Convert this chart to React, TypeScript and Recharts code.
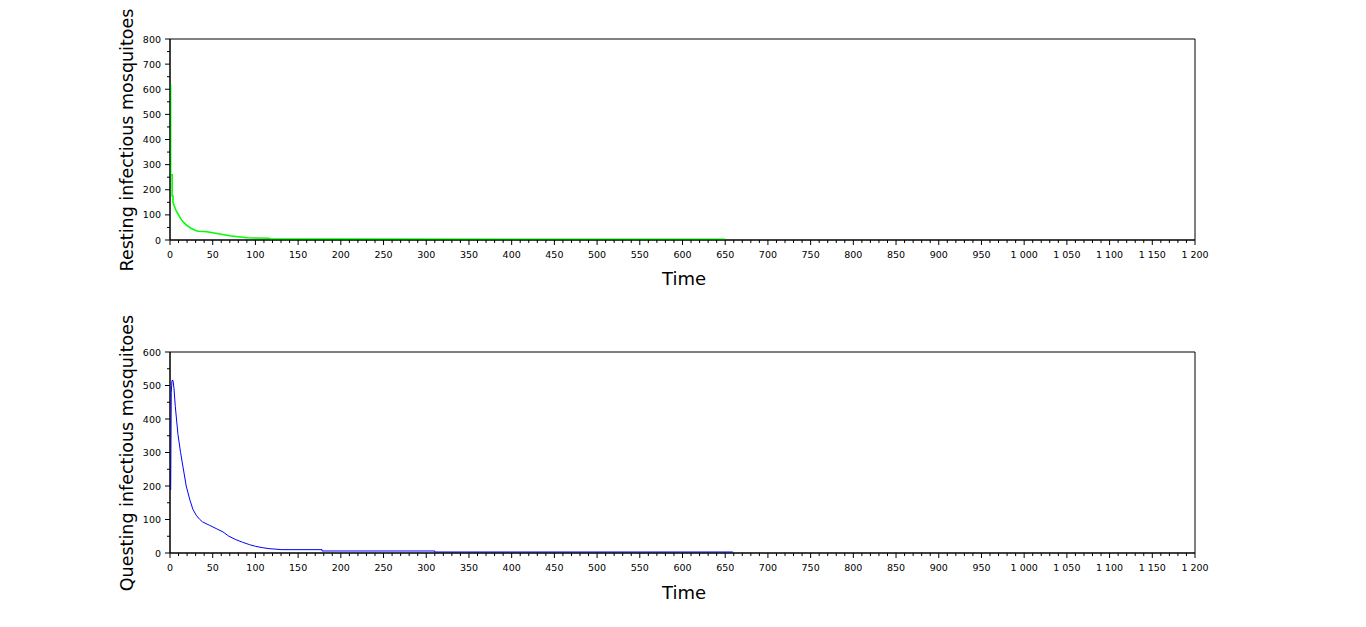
import React from "react";
import { LineChart, Line, XAxis, YAxis, ReferenceArea } from "recharts";

// Time (days) and values for resting infectious mosquitoes
const restingT = [0.7, 0.7, 2.5, 2.5, 3.5, 3.5, 5, 7, 10, 13, 16, 20, 25, 30, 33, 40, 45, 50, 55, 60, 65, 70, 77, 85, 90, 100, 116, 117, 200, 400, 650];
const restingV = [620, 260, 260, 175, 175, 150, 135, 118, 100, 82, 70, 57, 46, 38, 35, 34, 32, 29, 26, 23, 20, 17, 14, 11, 9, 8, 7, 4, 3.5, 3, 3];

// Time (days) and values for questing infectious mosquitoes
const questingT = [0.8, 1.5, 2.3, 3.5, 4.6, 6.2, 9.3, 12.4, 15, 19, 23, 26.7, 30.6, 34.5, 38, 46, 54, 62, 69, 77, 85, 93, 100, 108, 116, 131, 178, 178, 310, 310, 659];
const questingV = [188, 480, 515, 515, 493, 438, 354, 300, 260, 200, 161, 131, 113, 101, 93, 83, 73, 63, 50, 40, 32, 25, 20, 16, 13, 10, 10, 6, 6, 3, 3];

const xTicks: number[] = [];
for (let i = 0; i <= 1200; i += 10) xTicks.push(i);
const yTicksTop: number[] = [];
for (let i = 0; i <= 800; i += 50) yTicksTop.push(i);
const yTicksBottom: number[] = [];
for (let i = 0; i <= 600; i += 50) yTicksBottom.push(i);

const restingData = restingT.map((t, i) => ({ t, v: restingV[i] }));
const questingData = questingT.map((t, i) => ({ t, v: questingV[i] }));

const FONT = "DejaVu Sans, sans-serif";

const fmt = (v: number) => {
  if (v >= 1000) {
    const s = String(v);
    return s.slice(0, s.length - 3) + " " + s.slice(s.length - 3);
  }
  return String(v);
};

const XTick = (props: any) => {
  const { x, y, payload } = props;
  const major = payload.value % 50 === 0;
  return (
    <g>
      <line x1={x} x2={x} y1={y} y2={y + (major ? 5 : 3)} stroke="#000" strokeWidth={1} />
      {major && (
        <text x={x} y={y + 18} textAnchor="middle" fontSize={9.5} fontFamily={FONT} fill="#000">
          {fmt(payload.value)}
        </text>
      )}
    </g>
  );
};

const YTick = (props: any) => {
  const { x, y, payload } = props;
  const major = payload.value % 100 === 0;
  return (
    <g>
      <line x1={x} x2={x - (major ? 5 : 3)} y1={y} y2={y} stroke="#000" strokeWidth={1} />
      {major && (
        <text x={x - 9} y={y + 3.5} textAnchor="end" fontSize={9.5} fontFamily={FONT} fill="#000">
          {payload.value}
        </text>
      )}
    </g>
  );
};

function Panel({ data, yMax, yTicks, color, width, height, top, bottom }: any) {
  return (
    <LineChart
      width={1366}
      height={height}
      data={data}
      margin={{ top, right: 171, left: 120, bottom }}
    >
      <XAxis
        dataKey="t"
        type="number"
        domain={[0, 1200]}
        ticks={xTicks}
        interval={0}
        tickSize={0}
        tickMargin={0}
        tickLine={false}
        tick={<XTick />}
        height={30}
        axisLine={{ stroke: "#000" }}
        allowDataOverflow
      />
      <YAxis
        type="number"
        domain={[0, yMax]}
        ticks={yTicks}
        interval={0}
        tickSize={0}
        tickMargin={0}
        tickLine={false}
        tick={<YTick />}
        width={50}
        axisLine={{ stroke: "#000" }}
        allowDataOverflow
      />
      <ReferenceArea x1={0} x2={1200} y1={0} y2={yMax} fill="none" stroke="#000" strokeWidth={1} ifOverflow="visible" />
      <Line
        dataKey="v"
        type="linear"
        stroke={color}
        strokeWidth={width}
        dot={false}
        isAnimationActive={false}
      />
    </LineChart>
  );
}

export default function App() {
  return (
    <div style={{ position: "absolute", left: 0, top: 0, width: 1366, height: 627, background: "#fff" }}>
      <div style={{ position: "absolute", left: 0, top: 0 }}>
        <Panel data={restingData} yMax={800} yTicks={yTicksTop} color="#00ff00" width={1.6} height={313} top={39} bottom={43} />
      </div>
      <div style={{ position: "absolute", left: 0, top: 313 }}>
        <Panel data={questingData} yMax={600} yTicks={yTicksBottom} color="#0000ff" width={1} height={314} top={39} bottom={44} />
      </div>
      <svg width={1366} height={627} style={{ position: "absolute", left: 0, top: 0, pointerEvents: "none" }}>
        <text transform="translate(133,140) rotate(-90)" textAnchor="middle" fontSize={17.5} fontFamily={FONT} fill="#000">
          Resting infectious mosquitoes
        </text>
        <text x={684} y={285} textAnchor="middle" fontSize={18} fontFamily={FONT} fill="#000">
          Time
        </text>
        <text transform="translate(133,453) rotate(-90)" textAnchor="middle" fontSize={17.5} fontFamily={FONT} fill="#000">
          Questing infectious mosquitoes
        </text>
        <text x={684} y={599} textAnchor="middle" fontSize={18} fontFamily={FONT} fill="#000">
          Time
        </text>
      </svg>
    </div>
  );
}
